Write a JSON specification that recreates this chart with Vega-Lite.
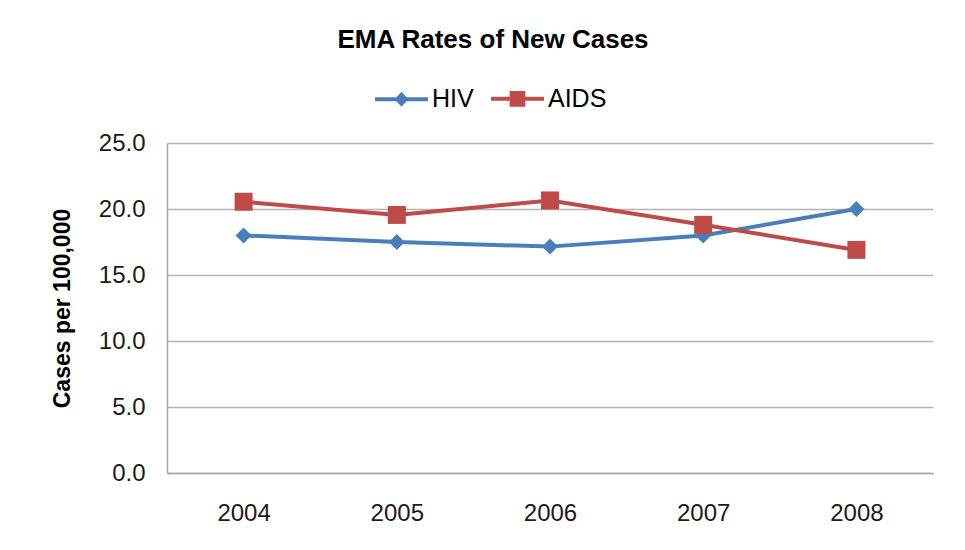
{
  "$schema": "https://vega.github.io/schema/vega-lite/v6.json",
  "width": 766,
  "height": 330,
  "autosize": {"type": "none"},
  "padding": {"left": 167, "top": 143, "right": 32, "bottom": 77},
  "background": "white",
  "title": {
    "text": "EMA Rates of New Cases",
    "font": "Liberation Sans",
    "fontSize": 26,
    "fontWeight": "bold",
    "color": "#000000",
    "anchor": "middle",
    "dx": -57,
    "offset": -4,
    "baseline": "alphabetic"
  },
  "config": {"view": {"stroke": null}, "font": "Liberation Sans"},
  "data": {
    "values": [
      {"year": "2004", "series": "HIV", "rate": 18.0},
      {"year": "2005", "series": "HIV", "rate": 17.5},
      {"year": "2006", "series": "HIV", "rate": 17.15},
      {"year": "2007", "series": "HIV", "rate": 18.0},
      {"year": "2008", "series": "HIV", "rate": 20.0},
      {"year": "2004", "series": "AIDS", "rate": 20.55},
      {"year": "2005", "series": "AIDS", "rate": 19.55},
      {"year": "2006", "series": "AIDS", "rate": 20.65},
      {"year": "2007", "series": "AIDS", "rate": 18.8},
      {"year": "2008", "series": "AIDS", "rate": 16.9}
    ]
  },
  "encoding": {
    "x": {
      "field": "year",
      "type": "ordinal",
      "scale": {"type": "point", "padding": 0.5},
      "axis": {
        "title": null,
        "labelAngle": 0,
        "ticks": false,
        "grid": false,
        "domainColor": "#a6a6a6",
        "domainWidth": 1.5,
        "labelFont": "Liberation Sans",
        "labelFontSize": 24,
        "labelColor": "#1a1a1a",
        "labelPadding": 28
      }
    },
    "y": {
      "field": "rate",
      "type": "quantitative",
      "scale": {"domain": [0, 25], "nice": false, "zero": true},
      "axis": {
        "title": "Cases per 100,000",
        "titleFont": "Liberation Sans",
        "titleFontSize": 23,
        "titleFontWeight": "bold",
        "titleColor": "#000000",
        "titlePadding": 24,
        "values": [0, 5, 10, 15, 20, 25],
        "format": ".1f",
        "ticks": false,
        "domainColor": "#a6a6a6",
        "domainWidth": 1.5,
        "gridColor": "#b3b3b3",
        "gridWidth": 1.5,
        "labelFont": "Liberation Sans",
        "labelFontSize": 24,
        "labelColor": "#1a1a1a",
        "labelPadding": 22
      }
    }
  },
  "layer": [
    {
      "mark": {"type": "line", "strokeWidth": 4},
      "encoding": {
        "color": {
          "field": "series",
          "type": "nominal",
          "scale": {"domain": ["HIV", "AIDS"], "range": ["#4a7ebb", "#be4b48"]},
          "legend": {
            "orient": "none",
            "legendX": 206,
            "legendY": -73,
            "direction": "horizontal",
            "title": null,
            "padding": 0,
            "symbolSize": 2809,
            "symbolStrokeWidth": 4,
            "labelFont": "Liberation Sans",
            "labelFontSize": 25,
            "labelColor": "#000000",
            "labelOffset": 2,
            "columnPadding": 9,
            "encode": {
              "symbols": {
                "update": {
                  "shape": {"signal": "datum.value === 'HIV' ? 'M-1,0H1M0,-0.17L0.16,0L0,0.17L-0.16,0Z' : 'M-1,0H1M-0.22,-0.22H0.22V0.22H-0.22Z'"},
                  "fill": {"signal": "datum.value === 'HIV' ? '#4a7ebb' : '#be4b48'"},
                  "stroke": {"signal": "datum.value === 'HIV' ? '#4a7ebb' : '#be4b48'"},
                  "strokeWidth": {"value": 4},
                  "opacity": {"value": 1},
                  "fillOpacity": {"value": 1},
                  "strokeOpacity": {"value": 1}
                }
              }
            }
          }
        }
      }
    },
    {
      "transform": [{"filter": "datum.series === 'HIV'"}],
      "mark": {"type": "point", "filled": true, "opacity": 1, "shape": "diamond", "size": 256, "color": "#4a7ebb"}
    },
    {
      "transform": [{"filter": "datum.series === 'AIDS'"}],
      "mark": {"type": "point", "filled": true, "opacity": 1, "shape": "square", "size": 324, "color": "#be4b48"}
    }
  ]
}
